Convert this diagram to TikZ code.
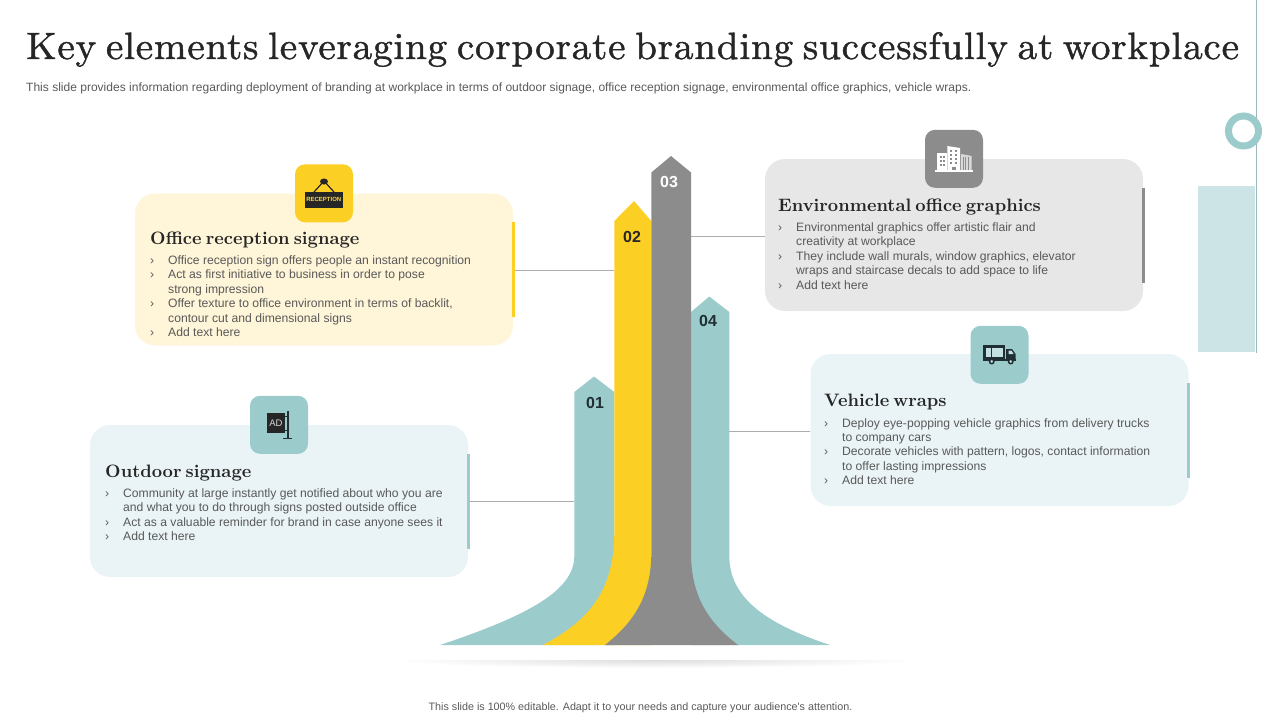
\documentclass[tikz,border=0pt]{standalone}
\usepackage{fontspec}
\usepackage{tikz}
\usetikzlibrary{positioning}
\newfontfamily\bodyfont{Liberation Sans}
\newfontfamily\titlefont[LetterSpace=2.1,FakeBold=1.2,FakeStretch=1.03,WordSpace=0.7]{lmroman10-regular.otf}
\newfontfamily\headfont[WordSpace=0.6]{lmroman10-bold.otf}
\definecolor{mteal}{HTML}{9CCBCC}
\definecolor{mtealpale}{HTML}{EAF4F6}
\definecolor{mtealside}{HTML}{CCE4E5}
\definecolor{mline}{HTML}{9DB8BA}
\definecolor{myellow}{HTML}{FCCF24}
\definecolor{myellowpale}{HTML}{FFF5D8}
\definecolor{mgrey}{HTML}{8C8C8C}
\definecolor{mgreypale}{HTML}{E7E7E7}
\definecolor{mink}{HTML}{262626}
\definecolor{mbody}{HTML}{595959}
\definecolor{mdark}{HTML}{1F2F33}
\tikzset{panel/.style = {rounded corners = 20, minimum width = 378, minimum height = 152, inner sep = 0}}
\tikzset{iconbox/.style = {rounded corners = 10, minimum width = 58, minimum height = 58, inner sep = 0}}
\tikzset{sidebar/.style = {minimum width = 3, minimum height = 95, inner sep = 0}}
\tikzset{link/.style = {draw = black!32, line width = 0.9}}
\tikzset{heading/.style = {anchor = base west, inner sep = 0, text = mink, font = \headfont\fontsize{18}{22}\selectfont}}
\tikzset{points/.style = {anchor = north west, inner sep = 0, align = left, text = mbody, font = \bodyfont\fontsize{12.15}{14.4}\selectfont}}
\tikzset{num/.style = {inner sep = 0, font = \bodyfont\bfseries\fontsize{16}{18}\selectfont}}
\newcommand{\bul}{\llap{\makebox[18pt][l]{›}}}
\begin{document}
\begin{tikzpicture}[x = 1pt, y = -1pt]
    \useasboundingbox (0, 0) rectangle (1280, 720);
    \node [anchor = base west, inner sep = 0, text = mink, font = \titlefont\fontsize{38}{40}\selectfont] (title) at (26, 59) {Key elements leveraging corporate branding successfully at workplace};
    \node [anchor = base west, inner sep = 0, text = mbody, font = \bodyfont\fontsize{12.03}{14}\selectfont] (subtitle) at (26, 91) {This slide provides information regarding deployment of branding at workplace in terms of outdoor signage, office reception signage, environmental office graphics, vehicle wraps.};
    % side decoration
    \fill [mtealside] (1198, 186) rectangle (1255, 352);
    \draw [mline, line width = 0.9] (1256.5, 0) -- (1256.5, 353);
    \draw [mteal, line width = 7, fill = white] (1243.5, 131) circle (15);
    % panels
    \foreach \nm/\x/\y/\ys/\cfill/\cmark in {a/279/501/0/mtealpale/mteal, b/324/269.5/0/myellowpale/myellow, c/954/235/0/mgreypale/mgrey, d/999.5/430/-1/mtealpale/mteal} {
      \node [panel, fill = \cfill] (panel\nm) at (\x, \y) {};
      \node [sidebar, fill = \cmark] (bar\nm) at (panel\nm.east) {};
      \node [iconbox, fill = \cmark, yshift = \ys] (icon\nm) at (panel\nm.north) {};
    }
    % arrows
    \fill [mteal] (574.3, 556) -- (574.3, 392) -- (594, 376.5) -- (614.3, 392) -- (614.3, 645) -- (440, 645) .. controls (530, 615) and (574.3, 590) .. (574.3, 556) -- cycle;
    \fill [mteal] (729.3, 556) -- (729.3, 312) -- (709.3, 296.5) -- (691, 312) -- (691, 645) -- (830, 645) .. controls (770, 625) and (729.3, 600) .. (729.3, 556) -- cycle;
    \fill [myellow] (614.3, 532) -- (614.3, 221) -- (634, 201) -- (651.3, 221) -- (651.3, 645) -- (543, 645) .. controls (590, 620) and (614.3, 590) .. (614.3, 532) -- cycle;
    \fill [mgrey] (651.3, 553) -- (651.3, 172.5) -- (671, 156) -- (691, 172.5) -- (691, 553) .. controls (691, 600) and (712, 625) .. (738, 645) -- (605, 645) .. controls (630, 625) and (651.3, 600) .. (651.3, 553) -- cycle;
    \begin{scope}
      \clip (380, 660) rectangle (940, 672);
      \shade [inner color = black!13, outer color = white] (655, 660) ellipse [x radius = 262, y radius = 8];
    \end{scope}
    \node [num, text = mdark] (numa) at (595, 403) {01};
    \node [num, text = mink] (numb) at (632, 237) {02};
    \node [num, text = white] (numc) at (669, 182) {03};
    \node [num, text = mdark] (numd) at (708, 321) {04};
    % connectors
    \coordinate (enda) at (574.3, 501.5);
    \coordinate (endb) at (614.3, 270.5);
    \coordinate (endc) at (691, 236);
    \coordinate (endd) at (729.3, 431);
    \draw [link] (bara.east |- enda) -- (enda);
    \draw [link] (barb.east |- endb) -- (endb);
    \draw [link] (panelc.west |- endc) -- (endc);
    \draw [link] (paneld.west |- endd) -- (endd);
    % texts
    \node [heading] (heada) at (105, 477) {Outdoor signage};
    \node [points] (texta) at (123, 488.5) {\bul Community at large instantly get notified about who you are\\and what you to do through signs posted outside office\\\bul Act as a valuable reminder for brand in case anyone sees it\\\bul Add text here};
    \node [heading] (headb) at (150, 244) {Office reception signage};
    \node [points] (textb) at (168, 255.5) {\bul Office reception sign offers people an instant recognition\\\bul Act as first initiative to business in order to pose\\strong impression\\\bul Offer texture to office environment in terms of backlit,\\contour cut and dimensional signs\\\bul Add text here};
    \node [heading] (headc) at (778, 211) {Environmental office graphics};
    \node [points] (textc) at (796, 222.5) {\bul Environmental graphics offer artistic flair and\\creativity at workplace\\\bul They include wall murals, window graphics, elevator\\wraps and staircase decals to add space to life\\\bul Add text here};
    \node [heading] (headd) at (824, 406) {Vehicle wraps};
    \node [points] (textd) at (842, 418) {\bul Deploy eye-popping vehicle graphics from delivery trucks\\to company cars\\\bul Decorate vehicles with pattern, logos, contact information\\to offer lasting impressions\\\bul Add text here};
    \node [inner sep = 0, text = mbody, font = \bodyfont\fontsize{10.75}{12}\selectfont] (footer) at (640.5, 708) {This slide is 100\% editable. Adapt it to your needs and capture your audience's attention.};
    % icon a
    \fill [mink] (267.3, 413) rectangle (285, 433);
    \node [inner sep = 0, text = white!85!black, font = \bodyfont\fontsize{9.5}{10}\selectfont] (adlabel) at (276, 423) {AD};
    \fill [mdark] (286.8, 411) rectangle (288.6, 438);
    \fill [mdark] (283, 437.5) rectangle (292, 439);
    \draw [mdark, line width = 0.7] (285, 416) -- (287, 416) (285, 430) -- (287, 430);
    % icon b
    \draw [mink, line width = 1.2] (314, 192) -- (324, 181) -- (334, 192);
    \fill [mink] (324, 181.5) ellipse [x radius = 4, y radius = 3];
    \fill [mink] (305, 192) rectangle (342.7, 207.7);
    \node [inner sep = 0, text = myellow!85!white, font = \bodyfont\bfseries\fontsize{6}{6}\selectfont] (signlabel) at (323.8, 199.8) {RECEPTION};
    % icon c
    \fill [white] (935, 170) rectangle (973, 171.5);
    \fill [white] (937.3, 153) rectangle (946.7, 170);
    \fill [white] (947.3, 146) -- (960, 148) -- (960, 170) -- (947.3, 170) -- cycle;
    \fill [white!85!black] (961, 154) -- (971.7, 156) -- (971.7, 170) -- (961, 170) -- cycle;
    \foreach \yy in {156, 160, 164} {
      \foreach \xx in {939.5, 943} {
        \fill [mgrey] (\xx, \yy) rectangle +(2, 2);
      }
    }
    \foreach \yy in {150, 154, 158, 162} {
      \foreach \xx in {950, 955} {
        \fill [mgrey] (\xx, \yy) rectangle +(2.4, 2.2);
      }
    }
    \foreach \xx in {963, 965.5, 968} {
      \draw [mgrey, line width = 0.6] (\xx, 157) -- (\xx, 170);
    }
    \fill [mgrey] (952, 166.5) rectangle (955.5, 170);
    % icon d
    \fill [mdark] (983.3, 345) rectangle (1005, 359);
    \fill [mteal!60!white] (986, 347.5) rectangle (990.5, 357);
    \fill [mteal!60!white] (992, 347.5) rectangle (1003, 357);
    \fill [mdark] (1006, 349) -- (1012, 349) -- (1015.5, 354) -- (1015.5, 360.5) -- (1006, 360.5) -- cycle;
    \fill [mdark] (983.3, 359) rectangle (1015.5, 360.5);
    \fill [mteal!60!white] (1008.5, 350.5) -- (1011.5, 350.5) -- (1013.5, 354) -- (1008.5, 354) -- cycle;
    \foreach \xx in {991.7, 1010.7} {
      \draw [mdark, line width = 1.5, fill = mteal!60!white] (\xx, 361.5) circle (2.2);
    }
  \end{tikzpicture}
\end{document}
